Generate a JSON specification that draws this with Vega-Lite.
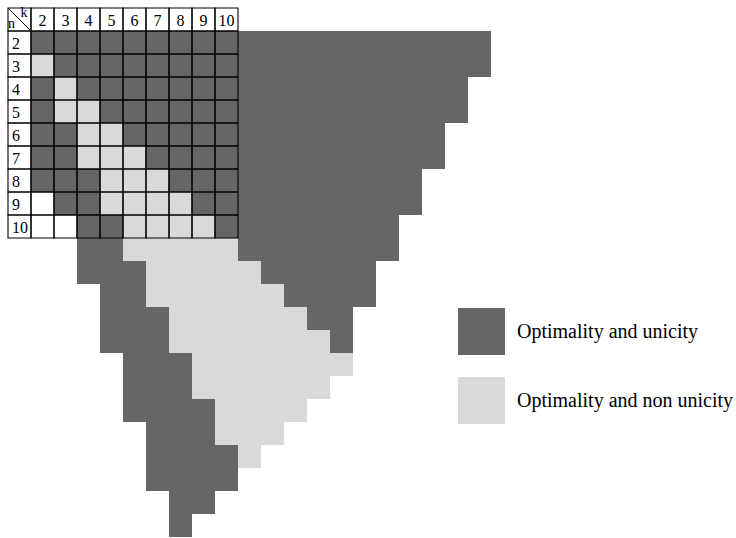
{
  "$schema": "https://vega.github.io/schema/vega-lite/v6.json",
  "width": 736,
  "height": 538,
  "autosize": "none",
  "padding": 0,
  "background": "white",
  "config": {"view": {"stroke": null}, "font": "Liberation Serif"},
  "datasets": {
    "cells": [
      {"n":2,"k":2,"s":"Optimality and unicity"},{"n":2,"k":3,"s":"Optimality and unicity"},{"n":2,"k":4,"s":"Optimality and unicity"},{"n":2,"k":5,"s":"Optimality and unicity"},{"n":2,"k":6,"s":"Optimality and unicity"},{"n":2,"k":7,"s":"Optimality and unicity"},{"n":2,"k":8,"s":"Optimality and unicity"},{"n":2,"k":9,"s":"Optimality and unicity"},{"n":2,"k":10,"s":"Optimality and unicity"},{"n":2,"k":11,"s":"Optimality and unicity"},{"n":2,"k":12,"s":"Optimality and unicity"},{"n":2,"k":13,"s":"Optimality and unicity"},{"n":2,"k":14,"s":"Optimality and unicity"},{"n":2,"k":15,"s":"Optimality and unicity"},{"n":2,"k":16,"s":"Optimality and unicity"},{"n":2,"k":17,"s":"Optimality and unicity"},{"n":2,"k":18,"s":"Optimality and unicity"},{"n":2,"k":19,"s":"Optimality and unicity"},{"n":2,"k":20,"s":"Optimality and unicity"},{"n":2,"k":21,"s":"Optimality and unicity"},
      {"n":3,"k":2,"s":"Optimality and non unicity"},{"n":3,"k":3,"s":"Optimality and unicity"},{"n":3,"k":4,"s":"Optimality and unicity"},{"n":3,"k":5,"s":"Optimality and unicity"},{"n":3,"k":6,"s":"Optimality and unicity"},{"n":3,"k":7,"s":"Optimality and unicity"},{"n":3,"k":8,"s":"Optimality and unicity"},{"n":3,"k":9,"s":"Optimality and unicity"},{"n":3,"k":10,"s":"Optimality and unicity"},{"n":3,"k":11,"s":"Optimality and unicity"},{"n":3,"k":12,"s":"Optimality and unicity"},{"n":3,"k":13,"s":"Optimality and unicity"},{"n":3,"k":14,"s":"Optimality and unicity"},{"n":3,"k":15,"s":"Optimality and unicity"},{"n":3,"k":16,"s":"Optimality and unicity"},{"n":3,"k":17,"s":"Optimality and unicity"},{"n":3,"k":18,"s":"Optimality and unicity"},{"n":3,"k":19,"s":"Optimality and unicity"},{"n":3,"k":20,"s":"Optimality and unicity"},{"n":3,"k":21,"s":"Optimality and unicity"},
      {"n":4,"k":2,"s":"Optimality and unicity"},{"n":4,"k":3,"s":"Optimality and non unicity"},{"n":4,"k":4,"s":"Optimality and unicity"},{"n":4,"k":5,"s":"Optimality and unicity"},{"n":4,"k":6,"s":"Optimality and unicity"},{"n":4,"k":7,"s":"Optimality and unicity"},{"n":4,"k":8,"s":"Optimality and unicity"},{"n":4,"k":9,"s":"Optimality and unicity"},{"n":4,"k":10,"s":"Optimality and unicity"},{"n":4,"k":11,"s":"Optimality and unicity"},{"n":4,"k":12,"s":"Optimality and unicity"},{"n":4,"k":13,"s":"Optimality and unicity"},{"n":4,"k":14,"s":"Optimality and unicity"},{"n":4,"k":15,"s":"Optimality and unicity"},{"n":4,"k":16,"s":"Optimality and unicity"},{"n":4,"k":17,"s":"Optimality and unicity"},{"n":4,"k":18,"s":"Optimality and unicity"},{"n":4,"k":19,"s":"Optimality and unicity"},{"n":4,"k":20,"s":"Optimality and unicity"},
      {"n":5,"k":2,"s":"Optimality and unicity"},{"n":5,"k":3,"s":"Optimality and non unicity"},{"n":5,"k":4,"s":"Optimality and non unicity"},{"n":5,"k":5,"s":"Optimality and unicity"},{"n":5,"k":6,"s":"Optimality and unicity"},{"n":5,"k":7,"s":"Optimality and unicity"},{"n":5,"k":8,"s":"Optimality and unicity"},{"n":5,"k":9,"s":"Optimality and unicity"},{"n":5,"k":10,"s":"Optimality and unicity"},{"n":5,"k":11,"s":"Optimality and unicity"},{"n":5,"k":12,"s":"Optimality and unicity"},{"n":5,"k":13,"s":"Optimality and unicity"},{"n":5,"k":14,"s":"Optimality and unicity"},{"n":5,"k":15,"s":"Optimality and unicity"},{"n":5,"k":16,"s":"Optimality and unicity"},{"n":5,"k":17,"s":"Optimality and unicity"},{"n":5,"k":18,"s":"Optimality and unicity"},{"n":5,"k":19,"s":"Optimality and unicity"},{"n":5,"k":20,"s":"Optimality and unicity"},
      {"n":6,"k":2,"s":"Optimality and unicity"},{"n":6,"k":3,"s":"Optimality and unicity"},{"n":6,"k":4,"s":"Optimality and non unicity"},{"n":6,"k":5,"s":"Optimality and non unicity"},{"n":6,"k":6,"s":"Optimality and unicity"},{"n":6,"k":7,"s":"Optimality and unicity"},{"n":6,"k":8,"s":"Optimality and unicity"},{"n":6,"k":9,"s":"Optimality and unicity"},{"n":6,"k":10,"s":"Optimality and unicity"},{"n":6,"k":11,"s":"Optimality and unicity"},{"n":6,"k":12,"s":"Optimality and unicity"},{"n":6,"k":13,"s":"Optimality and unicity"},{"n":6,"k":14,"s":"Optimality and unicity"},{"n":6,"k":15,"s":"Optimality and unicity"},{"n":6,"k":16,"s":"Optimality and unicity"},{"n":6,"k":17,"s":"Optimality and unicity"},{"n":6,"k":18,"s":"Optimality and unicity"},{"n":6,"k":19,"s":"Optimality and unicity"},
      {"n":7,"k":2,"s":"Optimality and unicity"},{"n":7,"k":3,"s":"Optimality and unicity"},{"n":7,"k":4,"s":"Optimality and non unicity"},{"n":7,"k":5,"s":"Optimality and non unicity"},{"n":7,"k":6,"s":"Optimality and non unicity"},{"n":7,"k":7,"s":"Optimality and unicity"},{"n":7,"k":8,"s":"Optimality and unicity"},{"n":7,"k":9,"s":"Optimality and unicity"},{"n":7,"k":10,"s":"Optimality and unicity"},{"n":7,"k":11,"s":"Optimality and unicity"},{"n":7,"k":12,"s":"Optimality and unicity"},{"n":7,"k":13,"s":"Optimality and unicity"},{"n":7,"k":14,"s":"Optimality and unicity"},{"n":7,"k":15,"s":"Optimality and unicity"},{"n":7,"k":16,"s":"Optimality and unicity"},{"n":7,"k":17,"s":"Optimality and unicity"},{"n":7,"k":18,"s":"Optimality and unicity"},{"n":7,"k":19,"s":"Optimality and unicity"},
      {"n":8,"k":2,"s":"Optimality and unicity"},{"n":8,"k":3,"s":"Optimality and unicity"},{"n":8,"k":4,"s":"Optimality and unicity"},{"n":8,"k":5,"s":"Optimality and non unicity"},{"n":8,"k":6,"s":"Optimality and non unicity"},{"n":8,"k":7,"s":"Optimality and non unicity"},{"n":8,"k":8,"s":"Optimality and unicity"},{"n":8,"k":9,"s":"Optimality and unicity"},{"n":8,"k":10,"s":"Optimality and unicity"},{"n":8,"k":11,"s":"Optimality and unicity"},{"n":8,"k":12,"s":"Optimality and unicity"},{"n":8,"k":13,"s":"Optimality and unicity"},{"n":8,"k":14,"s":"Optimality and unicity"},{"n":8,"k":15,"s":"Optimality and unicity"},{"n":8,"k":16,"s":"Optimality and unicity"},{"n":8,"k":17,"s":"Optimality and unicity"},{"n":8,"k":18,"s":"Optimality and unicity"},
      {"n":9,"k":2,"s":"none"},{"n":9,"k":3,"s":"Optimality and unicity"},{"n":9,"k":4,"s":"Optimality and unicity"},{"n":9,"k":5,"s":"Optimality and non unicity"},{"n":9,"k":6,"s":"Optimality and non unicity"},{"n":9,"k":7,"s":"Optimality and non unicity"},{"n":9,"k":8,"s":"Optimality and non unicity"},{"n":9,"k":9,"s":"Optimality and unicity"},{"n":9,"k":10,"s":"Optimality and unicity"},{"n":9,"k":11,"s":"Optimality and unicity"},{"n":9,"k":12,"s":"Optimality and unicity"},{"n":9,"k":13,"s":"Optimality and unicity"},{"n":9,"k":14,"s":"Optimality and unicity"},{"n":9,"k":15,"s":"Optimality and unicity"},{"n":9,"k":16,"s":"Optimality and unicity"},{"n":9,"k":17,"s":"Optimality and unicity"},{"n":9,"k":18,"s":"Optimality and unicity"},
      {"n":10,"k":2,"s":"none"},{"n":10,"k":3,"s":"none"},{"n":10,"k":4,"s":"Optimality and unicity"},{"n":10,"k":5,"s":"Optimality and unicity"},{"n":10,"k":6,"s":"Optimality and non unicity"},{"n":10,"k":7,"s":"Optimality and non unicity"},{"n":10,"k":8,"s":"Optimality and non unicity"},{"n":10,"k":9,"s":"Optimality and non unicity"},{"n":10,"k":10,"s":"Optimality and unicity"},{"n":10,"k":11,"s":"Optimality and unicity"},{"n":10,"k":12,"s":"Optimality and unicity"},{"n":10,"k":13,"s":"Optimality and unicity"},{"n":10,"k":14,"s":"Optimality and unicity"},{"n":10,"k":15,"s":"Optimality and unicity"},{"n":10,"k":16,"s":"Optimality and unicity"},{"n":10,"k":17,"s":"Optimality and unicity"},
      {"n":11,"k":4,"s":"Optimality and unicity"},{"n":11,"k":5,"s":"Optimality and unicity"},{"n":11,"k":6,"s":"Optimality and non unicity"},{"n":11,"k":7,"s":"Optimality and non unicity"},{"n":11,"k":8,"s":"Optimality and non unicity"},{"n":11,"k":9,"s":"Optimality and non unicity"},{"n":11,"k":10,"s":"Optimality and non unicity"},{"n":11,"k":11,"s":"Optimality and unicity"},{"n":11,"k":12,"s":"Optimality and unicity"},{"n":11,"k":13,"s":"Optimality and unicity"},{"n":11,"k":14,"s":"Optimality and unicity"},{"n":11,"k":15,"s":"Optimality and unicity"},{"n":11,"k":16,"s":"Optimality and unicity"},{"n":11,"k":17,"s":"Optimality and unicity"},
      {"n":12,"k":4,"s":"Optimality and unicity"},{"n":12,"k":5,"s":"Optimality and unicity"},{"n":12,"k":6,"s":"Optimality and unicity"},{"n":12,"k":7,"s":"Optimality and non unicity"},{"n":12,"k":8,"s":"Optimality and non unicity"},{"n":12,"k":9,"s":"Optimality and non unicity"},{"n":12,"k":10,"s":"Optimality and non unicity"},{"n":12,"k":11,"s":"Optimality and non unicity"},{"n":12,"k":12,"s":"Optimality and unicity"},{"n":12,"k":13,"s":"Optimality and unicity"},{"n":12,"k":14,"s":"Optimality and unicity"},{"n":12,"k":15,"s":"Optimality and unicity"},{"n":12,"k":16,"s":"Optimality and unicity"},
      {"n":13,"k":5,"s":"Optimality and unicity"},{"n":13,"k":6,"s":"Optimality and unicity"},{"n":13,"k":7,"s":"Optimality and non unicity"},{"n":13,"k":8,"s":"Optimality and non unicity"},{"n":13,"k":9,"s":"Optimality and non unicity"},{"n":13,"k":10,"s":"Optimality and non unicity"},{"n":13,"k":11,"s":"Optimality and non unicity"},{"n":13,"k":12,"s":"Optimality and non unicity"},{"n":13,"k":13,"s":"Optimality and unicity"},{"n":13,"k":14,"s":"Optimality and unicity"},{"n":13,"k":15,"s":"Optimality and unicity"},{"n":13,"k":16,"s":"Optimality and unicity"},
      {"n":14,"k":5,"s":"Optimality and unicity"},{"n":14,"k":6,"s":"Optimality and unicity"},{"n":14,"k":7,"s":"Optimality and unicity"},{"n":14,"k":8,"s":"Optimality and non unicity"},{"n":14,"k":9,"s":"Optimality and non unicity"},{"n":14,"k":10,"s":"Optimality and non unicity"},{"n":14,"k":11,"s":"Optimality and non unicity"},{"n":14,"k":12,"s":"Optimality and non unicity"},{"n":14,"k":13,"s":"Optimality and non unicity"},{"n":14,"k":14,"s":"Optimality and unicity"},{"n":14,"k":15,"s":"Optimality and unicity"},
      {"n":15,"k":5,"s":"Optimality and unicity"},{"n":15,"k":6,"s":"Optimality and unicity"},{"n":15,"k":7,"s":"Optimality and unicity"},{"n":15,"k":8,"s":"Optimality and non unicity"},{"n":15,"k":9,"s":"Optimality and non unicity"},{"n":15,"k":10,"s":"Optimality and non unicity"},{"n":15,"k":11,"s":"Optimality and non unicity"},{"n":15,"k":12,"s":"Optimality and non unicity"},{"n":15,"k":13,"s":"Optimality and non unicity"},{"n":15,"k":14,"s":"Optimality and non unicity"},{"n":15,"k":15,"s":"Optimality and unicity"},
      {"n":16,"k":6,"s":"Optimality and unicity"},{"n":16,"k":7,"s":"Optimality and unicity"},{"n":16,"k":8,"s":"Optimality and unicity"},{"n":16,"k":9,"s":"Optimality and non unicity"},{"n":16,"k":10,"s":"Optimality and non unicity"},{"n":16,"k":11,"s":"Optimality and non unicity"},{"n":16,"k":12,"s":"Optimality and non unicity"},{"n":16,"k":13,"s":"Optimality and non unicity"},{"n":16,"k":14,"s":"Optimality and non unicity"},{"n":16,"k":15,"s":"Optimality and non unicity"},
      {"n":17,"k":6,"s":"Optimality and unicity"},{"n":17,"k":7,"s":"Optimality and unicity"},{"n":17,"k":8,"s":"Optimality and unicity"},{"n":17,"k":9,"s":"Optimality and non unicity"},{"n":17,"k":10,"s":"Optimality and non unicity"},{"n":17,"k":11,"s":"Optimality and non unicity"},{"n":17,"k":12,"s":"Optimality and non unicity"},{"n":17,"k":13,"s":"Optimality and non unicity"},{"n":17,"k":14,"s":"Optimality and non unicity"},
      {"n":18,"k":6,"s":"Optimality and unicity"},{"n":18,"k":7,"s":"Optimality and unicity"},{"n":18,"k":8,"s":"Optimality and unicity"},{"n":18,"k":9,"s":"Optimality and unicity"},{"n":18,"k":10,"s":"Optimality and non unicity"},{"n":18,"k":11,"s":"Optimality and non unicity"},{"n":18,"k":12,"s":"Optimality and non unicity"},{"n":18,"k":13,"s":"Optimality and non unicity"},
      {"n":19,"k":7,"s":"Optimality and unicity"},{"n":19,"k":8,"s":"Optimality and unicity"},{"n":19,"k":9,"s":"Optimality and unicity"},{"n":19,"k":10,"s":"Optimality and non unicity"},{"n":19,"k":11,"s":"Optimality and non unicity"},{"n":19,"k":12,"s":"Optimality and non unicity"},
      {"n":20,"k":7,"s":"Optimality and unicity"},{"n":20,"k":8,"s":"Optimality and unicity"},{"n":20,"k":9,"s":"Optimality and unicity"},{"n":20,"k":10,"s":"Optimality and unicity"},{"n":20,"k":11,"s":"Optimality and non unicity"},
      {"n":21,"k":7,"s":"Optimality and unicity"},{"n":21,"k":8,"s":"Optimality and unicity"},{"n":21,"k":9,"s":"Optimality and unicity"},{"n":21,"k":10,"s":"Optimality and unicity"},
      {"n":22,"k":8,"s":"Optimality and unicity"},{"n":22,"k":9,"s":"Optimality and unicity"},
      {"n":23,"k":8,"s":"Optimality and unicity"}
    ],
    "heads": [
      {"k":1,"n":1,"kind":"corner","label":""},
      {"k":2,"n":1,"kind":"col","label":"2"},{"k":3,"n":1,"kind":"col","label":"3"},{"k":4,"n":1,"kind":"col","label":"4"},{"k":5,"n":1,"kind":"col","label":"5"},{"k":6,"n":1,"kind":"col","label":"6"},{"k":7,"n":1,"kind":"col","label":"7"},{"k":8,"n":1,"kind":"col","label":"8"},{"k":9,"n":1,"kind":"col","label":"9"},{"k":10,"n":1,"kind":"col","label":"10"},
      {"k":1,"n":2,"kind":"row","label":"2"},{"k":1,"n":3,"kind":"row","label":"3"},{"k":1,"n":4,"kind":"row","label":"4"},{"k":1,"n":5,"kind":"row","label":"5"},{"k":1,"n":6,"kind":"row","label":"6"},{"k":1,"n":7,"kind":"row","label":"7"},{"k":1,"n":8,"kind":"row","label":"8"},{"k":1,"n":9,"kind":"row","label":"9"},{"k":1,"n":10,"kind":"row","label":"10"}
    ],
    "corner": [{"k":1,"n":1,"rowName":"n","colName":"k"}]
  },
  "layer": [
    {
      "data": {"name": "cells"},
      "transform": [{"filter": "datum.s !== 'none'"}],
      "mark": {"type": "rect", "strokeWidth": 0},
      "encoding": {
        "x": {"field": "k", "type": "ordinal", "axis": null,
              "scale": {"domain": [1,2,3,4,5,6,7,8,9,10,11,12,13,14,15,16,17,18,19,20,21], "range": [8, 491], "paddingInner": 0, "paddingOuter": 0}},
        "y": {"field": "n", "type": "ordinal", "axis": null,
              "scale": {"domain": [1,2,3,4,5,6,7,8,9,10,11,12,13,14,15,16,17,18,19,20,21,22,23], "range": [8, 537], "paddingInner": 0, "paddingOuter": 0}},
        "fill": {"field": "s", "type": "nominal",
                 "scale": {"domain": ["Optimality and unicity", "Optimality and non unicity"], "range": ["#666666", "#d9d9d9"]},
                 "legend": {"title": null, "orient": "none", "legendX": 458, "legendY": 308, "direction": "vertical",
                            "symbolType": "square", "symbolSize": 2209, "symbolStrokeWidth": 0, "symbolOpacity": 1,
                            "labelFont": "Liberation Serif", "labelFontSize": 20, "labelColor": "black",
                            "labelOffset": 12, "rowPadding": 22, "padding": 0, "labelLimit": 400}}
      }
    },
    {
      "data": {"name": "cells"},
      "transform": [{"filter": "datum.k <= 10 && datum.n <= 10"}],
      "mark": {"type": "rect", "filled": false, "color": "black", "strokeWidth": 1.1},
      "encoding": {
        "x": {"field": "k", "type": "ordinal"},
        "y": {"field": "n", "type": "ordinal"}
      }
    },
    {
      "data": {"name": "heads"},
      "mark": {"type": "rect", "filled": false, "color": "black", "strokeWidth": 1.1},
      "encoding": {
        "x": {"field": "k", "type": "ordinal"},
        "y": {"field": "n", "type": "ordinal"}
      }
    },
    {
      "data": {"name": "heads"},
      "transform": [{"filter": "datum.kind === 'col'"}],
      "mark": {"type": "text", "align": "center", "baseline": "middle", "dy": 1.5, "font": "Liberation Serif", "fontSize": 16, "color": "black"},
      "encoding": {
        "x": {"field": "k", "type": "ordinal"},
        "y": {"field": "n", "type": "ordinal"},
        "text": {"field": "label"}
      }
    },
    {
      "data": {"name": "heads"},
      "transform": [{"filter": "datum.kind === 'row'"}],
      "mark": {"type": "text", "align": "left", "baseline": "middle", "dy": 1.5, "xOffset": -7.5, "font": "Liberation Serif", "fontSize": 16, "color": "black"},
      "encoding": {
        "x": {"field": "k", "type": "ordinal"},
        "y": {"field": "n", "type": "ordinal"},
        "text": {"field": "label"}
      }
    },
    {
      "data": {"name": "corner"},
      "mark": {"type": "rule", "color": "black", "strokeWidth": 1, "xOffset": -11.5, "x2Offset": 11.5, "yOffset": -11.5, "y2Offset": 11.5},
      "encoding": {
        "x": {"field": "k", "type": "ordinal"},
        "x2": {"field": "k"},
        "y": {"field": "n", "type": "ordinal"},
        "y2": {"field": "n"}
      }
    },
    {
      "data": {"name": "corner"},
      "mark": {"type": "text", "align": "center", "baseline": "alphabetic", "xOffset": -8, "yOffset": 8.8, "font": "Liberation Serif", "fontSize": 14, "color": "black"},
      "encoding": {
        "x": {"field": "k", "type": "ordinal"},
        "y": {"field": "n", "type": "ordinal"},
        "text": {"field": "rowName"}
      }
    },
    {
      "data": {"name": "corner"},
      "mark": {"type": "text", "align": "center", "baseline": "alphabetic", "xOffset": 4.5, "yOffset": -2.2, "font": "Liberation Serif", "fontSize": 14, "color": "black"},
      "encoding": {
        "x": {"field": "k", "type": "ordinal"},
        "y": {"field": "n", "type": "ordinal"},
        "text": {"field": "colName"}
      }
    }
  ]
}
